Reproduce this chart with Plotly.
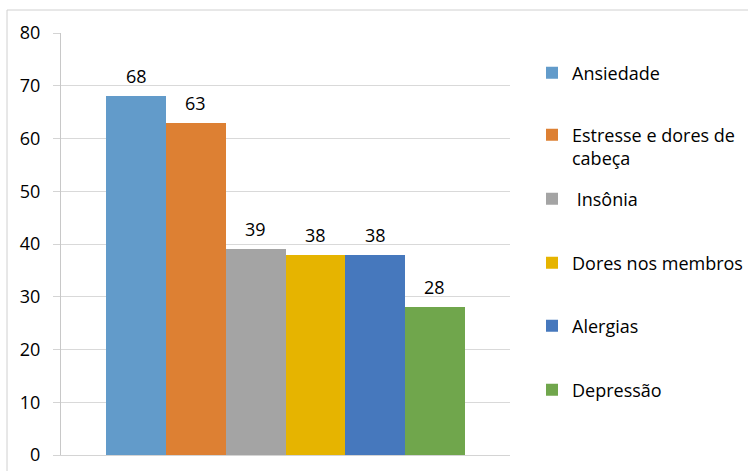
import plotly.graph_objects as go

categories = ["Ansiedade", "Estresse e dores de cabeça", "Insônia",
              "Dores nos membros", "Alergias", "Depressão"]
legend_labels = ["Ansiedade", "Estresse e dores de<br>cabeça", " Insônia",
                 "Dores nos membros", "Alergias", "Depressão"]
values = [68, 63, 39, 38, 38, 28]
colors = ["#629bca", "#dd8033", "#a4a4a4", "#e6b400", "#4678bd", "#70a64c"]
y_ticks = [0, 10, 20, 30, 40, 50, 60, 70, 80]

FONT = "Open Sans"
W, H = 748, 471
L, R, T, B = 61, 238, 33, 16
plot_h = H - T - B
plot_w = W - L - R

def py(pix):
    return (H - B - pix) / plot_h

def px(pix):
    return (pix - L) / plot_w

legend_centers = [73, 146.5, 199, 263, 326, 390]

fig = go.Figure()
for i, (c, lab, v, col) in enumerate(zip(categories, legend_labels, values, colors)):
    lg = "legend" if i == 0 else f"legend{i+1}"
    fig.add_trace(go.Bar(
        x=[c], y=[v], name=lab, marker=dict(color=col, line=dict(width=0)),
        width=1, legend=lg, hoverinfo="x+y",
    ))
    fig.add_annotation(x=c, y=v, text=str(v), showarrow=False, yanchor="bottom",
                       yshift=6, font=dict(family=FONT, size=18, color="#000000"))

layout_legends = {}
for i, cy in enumerate(legend_centers):
    key = "legend" if i == 0 else f"legend{i+1}"
    layout_legends[key] = dict(
        x=px(532), y=py(cy), xanchor="left", yanchor="middle",
        bgcolor="rgba(0,0,0,0)", borderwidth=0, valign="top",
        font=dict(family=FONT, size=18, color="#000000"),
    )

gx0 = px(7)
gx1 = px(W + 5)
gy1 = py(10)

fig.update_layout(
    width=W, height=H,
    margin=dict(l=L, r=R, t=T, b=B, pad=0, autoexpand=False),
    paper_bgcolor="white", plot_bgcolor="white",
    barmode="overlay", bargap=0,
    showlegend=True,
    font=dict(family=FONT, size=18, color="#000000"),
    xaxis=dict(type="category", categoryorder="array", categoryarray=categories,
               range=[-1.26, 6.26], showticklabels=False, showgrid=False,
               showline=True, linecolor="#d4d4d4", linewidth=1, ticks="",
               zeroline=False, fixedrange=True, automargin=False),
    yaxis=dict(range=[0, 80], tickvals=y_ticks, showgrid=True, gridcolor="#d9d9d9",
               gridwidth=1, showline=True, linecolor="#c8c8c8", linewidth=1,
               ticks="outside", ticklen=7, tickcolor="#d4d4d4", tickwidth=1,
               ticklabelstandoff=9, zeroline=False, automargin=False,
               tickfont=dict(family=FONT, size=18, color="#000000")),
    shapes=[
        dict(type="line", xref="paper", yref="paper", x0=gx0, x1=gx0, y0=-0.1, y1=gy1,
             line=dict(color="#d0d0d0", width=1)),
        dict(type="line", xref="paper", yref="paper", x0=gx0, x1=gx1, y0=gy1, y1=gy1,
             line=dict(color="#d0d0d0", width=1)),
    ],
    **layout_legends,
)

fig.write_html("out.html")
